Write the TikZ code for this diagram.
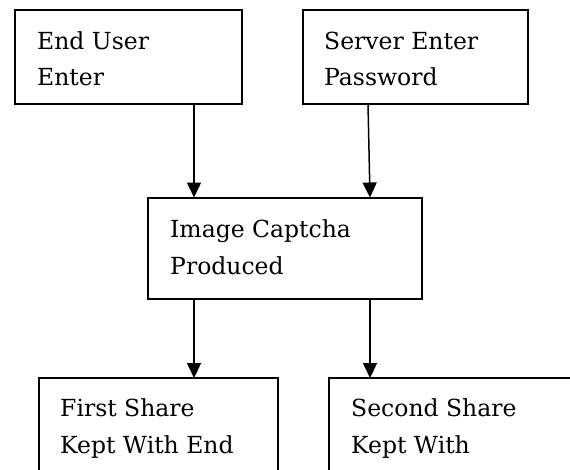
\documentclass[tikz,border=0pt]{standalone}
\usepackage{fontspec}
\setmainfont{DejaVu Serif}
\usetikzlibrary{arrows.meta,calc}
\begin{document}
\begin{tikzpicture}[x=1pt,y=-1pt,
  box/.style={draw=black,line width=2pt,inner sep=0pt,outer sep=0pt,anchor=north west},
  lbl/.style={anchor=base west,inner sep=0pt,align=left,font=\fontsize{23.5}{36.5}\selectfont},
  arr/.style={line width=1.5pt,-{Triangle[length=15pt,width=14pt]}}]
\useasboundingbox (0,0) rectangle (570,469);
\clip (0,0) rectangle (570,469);
\node[box,minimum width=227pt,minimum height=93.5pt] (b1) at (15,10) {};
\node[box,minimum width=225pt,minimum height=93.5pt] (b2) at (303,10) {};
\node[box,minimum width=273.5pt,minimum height=101pt] (b3) at (148,197.5) {};
\node[box,minimum width=239pt,minimum height=130pt] (b4) at (39,378) {};
\node[box,minimum width=290pt,minimum height=130pt] (b5) at (329,378) {};
\node[lbl] (t1) at ($(b1.north west)+(22,75.5)$) {End User\\Enter};
\node[lbl] (t2) at ($(b2.north west)+(21,75.5)$) {Server Enter\\Password};
\node[lbl] (t3) at ($(b3.north west)+(22,76.5)$) {Image Captcha\\Produced};
\node[lbl] (t4) at ($(b4.north west)+(21,75.2)$) {First Share\\Kept With End};
\node[lbl] (t5) at ($(b5.north west)+(22,75.2)$) {Second Share\\Kept With};
\coordinate (cL) at (194,0);
\coordinate (cR) at (370,0);
\coordinate (cRt) at (368,0);
\draw[arr] (cL |- b1.south) -- (cL |- b3.north);
\draw[arr] (cRt |- b2.south) -- (cR |- b3.north);
\draw[arr] (cL |- b3.south) -- (cL |- b4.north);
\draw[arr] (cR |- b3.south) -- (cR |- b5.north);
\end{tikzpicture}
\end{document}
